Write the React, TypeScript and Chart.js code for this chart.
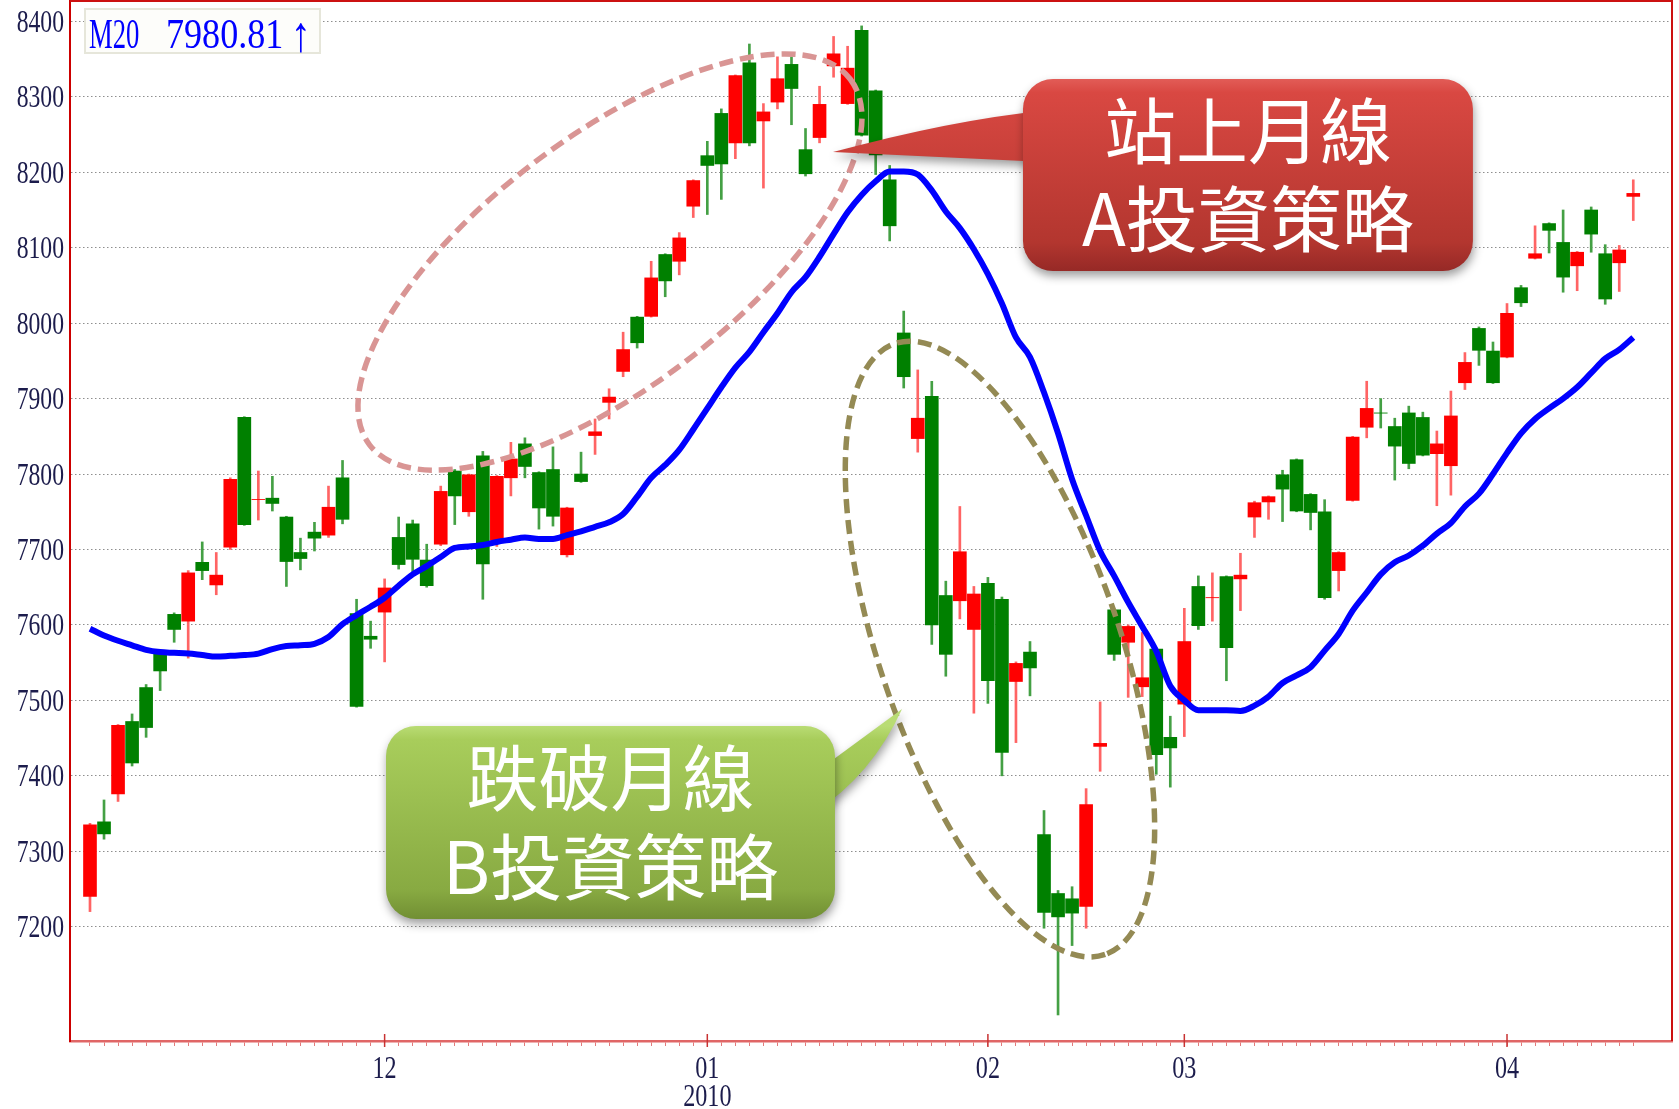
import React, { useEffect, useRef } from "react";
import { Chart, registerables } from "chart.js";

Chart.register(...registerables);

// ---- data (daily candles, Nov 2009 – Apr 2010) ----
const opens = [7240,7339,7376,7472,7517,7565,7614,7605,7683,7653, 7703,7875,7766,7768,7743,7696,7723,7719,7795,7615, 7585,7617,7716,7734,7686,7707,7804,7750,7824,7712, 7795,7840,7802,7806,7693,7800,7851,7895,7936,8008, 8009,8091,8082,8155,8222,8278,8239,8345,8268,8293, 8343,8230,8246,8341,8291,8388,8308,8190,7987,7847, 7903,7639,7632,7594,7655,7634,7525,7564,7322,7244, 7237,7227,7439,7620,7577,7518,7568,7451,7495,7651, 7636,7664,7661,7743,7763,7799,7819,7773,7750,7672, 7765,7862,7881,7863,7881,7875,7827,7811,7921,7993, 7963,7955,8047,8086,8132,8107,8076,8150,8092,8080, 8168];
const highs = [7337,7368,7468,7482,7521,7566,7616,7672,7710,7696, 7795,7876,7804,7797,7744,7715,7736,7784,7818,7634, 7605,7661,7743,7739,7707,7784,7806,7800,7830,7798, 7842,7848,7803,7836,7756,7829,7873,7913,7988,8009, 8082,8092,8120,8190,8241,8284,8329,8370,8291,8353, 8353,8258,8314,8380,8367,8394,8309,8209,8016,7938, 7923,7658,7757,7651,7663,7637,7551,7578,7354,7248, 7253,7383,7498,7621,7600,7590,7570,7479,7622,7665, 7669,7665,7695,7764,7771,7805,7820,7774,7766,7697, 7850,7923,7900,7874,7890,7882,7857,7910,7961,7995, 7975,8026,8050,8129,8133,8150,8095,8154,8104,8103, 8190];
const lows = [7220,7316,7366,7413,7451,7513,7577,7556,7660,7640, 7700,7732,7739,7751,7651,7673,7698,7716,7734,7491, 7569,7551,7674,7669,7650,7705,7733,7744,7634,7704, 7771,7795,7727,7731,7690,7789,7826,7873,7929,7967, 8008,8035,8064,8140,8144,8164,8218,8235,8179,8284, 8263,8195,8239,8326,8290,8248,8197,8109,7914,7829, 7574,7532,7608,7483,7496,7400,7444,7506,7198,7083, 7175,7198,7406,7553,7504,7505,7402,7385,7452,7594, 7605,7526,7619,7716,7740,7737,7750,7726,7634,7645, 7764,7848,7861,7792,7807,7824,7758,7772,7912,7944, 7920,7954,8022,8085,8093,8041,8043,8094,8025,8042, 8136];
const closes = [7335,7323,7467,7417,7464,7539,7594,7669,7672,7666, 7793,7733,7766.3,7761,7684,7688,7715,7756,7740,7492, 7581,7649,7680,7687,7652,7777,7771,7799,7681,7797, 7820,7810,7755,7744,7755,7790,7856,7902,7965,7974, 8060,8056,8113,8189,8209,8211,8328,8239,8280,8324, 8311,8198,8290,8357,8338,8249,8223,8129,7929,7874, 7600,7561,7697,7641,7526,7431,7549,7543,7219,7213, 7218,7362,7443,7561,7598,7530,7428,7437,7578,7599, 7636.3,7570,7666,7762,7770,7780,7751,7749,7636,7696, 7849,7887,7880.7,7837,7814,7825,7840,7877,7948,7964, 7921,8013,8027,8092,8123,8061,8094,8118,8032,8097, 8172];
const ma20 = [7595,7586,7579,7573,7567,7564,7563,7562,7560,7558, 7559,7560,7562,7568,7572,7573,7575,7584,7601,7613, 7624,7636,7652,7667,7678,7690,7702,7704,7706,7710, 7713,7716,7714,7714,7719,7724,7730,7736,7747,7770, 7795,7812,7832,7859,7887,7915,7941,7962,7988,8013, 8041,8061,8088,8118,8147,8170,8188,8201,8201,8197, 8176,8148,8126,8098,8065,8026,7981,7955,7908,7854, 7793,7745,7698,7665,7630,7598,7565,7519,7500,7487, 7487,7487,7486,7493,7505,7523,7533,7544,7566,7588, 7619,7643,7667,7683,7692,7705,7721,7735,7757,7774, 7800,7828,7854,7873,7887,7900,7915,7934,7953,7965, 7981];

const monthTickIdx = [21, 44, 64, 78, 101];
const monthLabels = [["12"], ["01", "2010"], ["02"], ["03"], ["04"]];
const yTickValues = [7200, 7300, 7400, 7500, 7600, 7700, 7800, 7900, 8000, 8100, 8200, 8300, 8400];
const maName = "M20";
const maValueText = "7980.81";
const maArrow = "↑";
const calloutAText = ["站上月線", "A投資策略"];
const calloutBText = ["跌破月線", "B投資策略"];

const UP = "#FF0000";
const DOWN = "#008000";
const UP_WICK = "#FF6464";
const DOWN_WICK = "#44A044";

function condensed(ctx: CanvasRenderingContext2D, text: string, x: number, y: number, align: CanvasTextAlign, sx: number) {
  ctx.save();
  ctx.translate(x, y);
  ctx.scale(sx, 1);
  ctx.textAlign = align;
  ctx.textBaseline = "alphabetic";
  ctx.fillText(text, 0, 0);
  ctx.restore();
}

function dashedEllipse(ctx: CanvasRenderingContext2D, cx: number, cy: number, a: number, b: number, rotDeg: number, color: string) {
  ctx.save();
  ctx.beginPath();
  ctx.ellipse(cx, cy, a, b, (rotDeg * Math.PI) / 180, 0, Math.PI * 2);
  ctx.setLineDash([14, 7]);
  ctx.lineWidth = 5.5;
  ctx.strokeStyle = color;
  ctx.stroke();
  ctx.restore();
}

function callout(
  ctx: CanvasRenderingContext2D,
  box: [number, number, number, number],
  drawPointer: (c: CanvasRenderingContext2D) => void,
  stops: [number, string][],
  lines: string[],
) {
  const [x0, y0, x1, y1] = box;
  const g = ctx.createLinearGradient(0, y0, 0, y1);
  stops.forEach(([s, c]) => g.addColorStop(s, c));
  ctx.save();
  ctx.shadowColor = "rgba(0,0,0,0.38)";
  ctx.shadowBlur = 10;
  ctx.shadowOffsetY = 5;
  ctx.shadowOffsetX = 1;
  ctx.fillStyle = g;
  ctx.beginPath();
  drawPointer(ctx);
  ctx.closePath();
  ctx.fill();
  ctx.beginPath();
  (ctx as any).roundRect(x0, y0, x1 - x0, y1 - y0, 30);
  ctx.fill();
  ctx.restore();
  const h = y1 - y0;
  const cx = (x0 + x1) / 2;
  ctx.save();
  ctx.fillStyle = "#FFFFFF";
  ctx.font = '72px "Noto Sans CJK TC", "Noto Sans CJK SC", sans-serif';
  ctx.textAlign = "center";
  ctx.textBaseline = "alphabetic";
  ctx.fillText(lines[0], cx, y0 + h * 0.41);
  ctx.fillText(lines[1], cx, y0 + h * 0.87);
  ctx.restore();
}

const overlayPlugin = {
  id: "overlay",
  afterDraw(chart: any) {
    const { ctx, chartArea: ca, scales } = chart;
    const X = (v: number) => scales.x.getPixelForValue(v);
    const Y = (v: number) => scales.y.getPixelForValue(v);
    ctx.save();
    ctx.strokeStyle = "#CC1111";
    ctx.lineWidth = 2;
    ctx.beginPath();
    ctx.moveTo(ca.left, ca.top);
    ctx.lineTo(ca.right, ca.top);
    ctx.lineTo(ca.right, ca.bottom);
    ctx.stroke();
    ctx.strokeStyle = "#C83232";
    ctx.lineWidth = 1.5;
    monthTickIdx.forEach((i) => {
      const x = X(i);
      ctx.beginPath();
      ctx.moveTo(x, ca.bottom - 7);
      ctx.lineTo(x, ca.bottom + 6);
      ctx.stroke();
    });
    ctx.fillStyle = "#1C1C4C";
    ctx.font = '32px "Liberation Serif", "Times New Roman", serif';
    yTickValues.forEach((v) => condensed(ctx, String(v), ca.left - 6, Y(v) + 10.5, "right", 0.74));
    ctx.font = '31px "Liberation Serif", "Times New Roman", serif';
    monthTickIdx.forEach((i, k) =>
      monthLabels[k].forEach((t, j) => condensed(ctx, t, X(i), ca.bottom + 37 + j * 28, "center", 0.78)),
    );
    dashedEllipse(ctx, X(37.06), Y(8081), 302, 125, -37.25, "#D99594");
    dashedEllipse(ctx, X(64.86), Y(7568), 323, 120, 71, "#948A54");
    callout(
      ctx,
      [X(66.5), Y(8323.5), X(98.57), Y(8069)],
      (c) => {
        c.moveTo(X(68.07), Y(8282));
        c.quadraticCurveTo(X(61.3), Y(8269), X(52.96), Y(8226.7));
        c.lineTo(X(68.07), Y(8213.5));
      },
      [
        [0, "#E25C57"],
        [0.07, "#D94842"],
        [0.85, "#B3362F"],
        [1, "#962926"],
      ],
      calloutAText,
    );
    callout(
      ctx,
      [X(21.1), Y(7466), X(53.1), Y(7210.2)],
      (c) => {
        c.moveTo(X(51.67), Y(7403.8));
        c.lineTo(X(57.88), Y(7488.6));
        c.quadraticCurveTo(X(55.74), Y(7401.2), X(51.67), Y(7352));
      },
      [
        [0, "#B9DC74"],
        [0.07, "#A8CD5B"],
        [0.85, "#88AA42"],
        [1, "#718F33"],
      ],
      calloutBText,
    );
    const bx = ca.left + 15;
    const by = ca.top + 8;
    ctx.fillStyle = "#FDFDFA";
    ctx.fillRect(bx, by, 235, 44);
    ctx.strokeStyle = "#E6E6DA";
    ctx.lineWidth = 2;
    ctx.strokeRect(bx, by, 235, 44);
    ctx.fillStyle = "#0000FF";
    ctx.font = '43px "Liberation Serif", "Times New Roman", serif';
    condensed(ctx, maName, bx + 4, by + 39, "left", 0.62);
    condensed(ctx, maValueText, bx + 81, by + 39, "left", 0.84);
    ctx.font = '50px "Liberation Serif", "DejaVu Serif", serif';
    condensed(ctx, maArrow, bx + 216, by + 42, "center", 0.8);
    ctx.restore();
  },
};

export default function App() {
  const ref = useRef<HTMLCanvasElement | null>(null);
  useEffect(() => {
    document.body.style.margin = "0";
    const canvas = ref.current;
    if (!canvas) return;
    const idx = opens.map((_, i) => i);
    const bodyColors = idx.map((i) => (closes[i] >= opens[i] ? UP : DOWN));
    const wickColors = idx.map((i) => (closes[i] >= opens[i] ? UP_WICK : DOWN_WICK));
    const chart = new Chart(canvas, {
      type: "bar",
      data: {
        datasets: [
          {
            type: "line",
            data: idx.map((i) => ({ x: i, y: ma20[i] })),
            borderColor: "#0000FF",
            borderWidth: 6,
            pointRadius: 0,
            cubicInterpolationMode: "monotone",
            order: 0,
          } as any,
          {
            type: "bar",
            data: idx.map((i) => ({ x: i, y: [opens[i], closes[i]] })),
            backgroundColor: bodyColors,
            barThickness: 13,
            grouped: false,
            order: 1,
          } as any,
          {
            type: "bar",
            data: idx.map((i) => ({ x: i, y: [lows[i], highs[i]] })),
            backgroundColor: wickColors,
            barThickness: 2,
            grouped: false,
            order: 2,
          } as any,
        ],
      },
      options: {
        animation: false,
        responsive: false,
        devicePixelRatio: 1,
        layout: { padding: { top: 1, right: 7, left: 0, bottom: 0 } },
        plugins: { legend: { display: false }, tooltip: { enabled: false } },
        scales: {
          x: {
            type: "linear",
            min: -1.425,
            max: 112.76,
            offset: false,
            grid: { offset: false, drawOnChartArea: false, drawTicks: true, tickLength: 5, color: "#E37A7A", lineWidth: 1 },
            border: { display: true, color: "#E06666", width: 2.5 },
            ticks: { display: false },
            afterBuildTicks: (s: any) => {
              s.ticks = idx.map((i) => ({ value: i }));
            },
            afterFit: (s: any) => {
              s.height = 68;
            },
          },
          y: {
            type: "linear",
            min: 7048.5,
            max: 8427,
            grid: { color: "#8E8E8E", lineWidth: 1, drawTicks: false },
            border: { display: true, color: "#CC0000", width: 2, dash: [1.5, 2.5] },
            ticks: { display: false },
            afterBuildTicks: (s: any) => {
              s.ticks = yTickValues.map((v) => ({ value: v }));
            },
            afterFit: (s: any) => {
              s.width = 70;
            },
          },
        },
      } as any,
      plugins: [overlayPlugin],
    });
    return () => chart.destroy();
  }, []);
  return (
    <div style={{ width: 1679, height: 1109, position: "relative", background: "#FFFFFF" }}>
      <canvas ref={ref} width={1679} height={1109} style={{ display: "block", width: 1679, height: 1109 }} />
    </div>
  );
}
